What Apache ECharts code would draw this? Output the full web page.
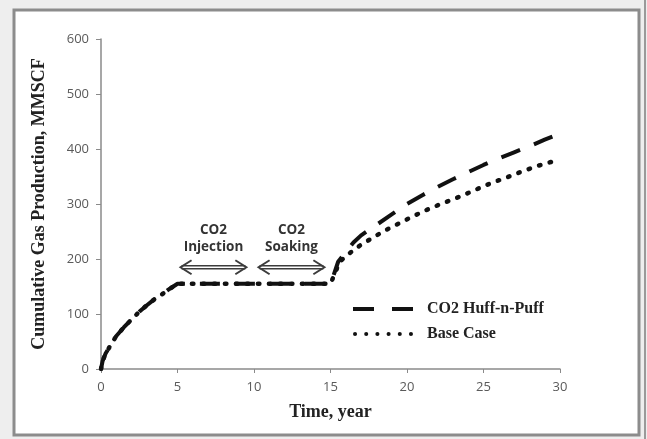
<!DOCTYPE html>
<html>
<head>
<meta charset="utf-8">
<script src="https://cdn.jsdelivr.net/npm/echarts@6/dist/echarts.min.js"></script>
<style>
html,body{margin:0;padding:0;background:#eeeeee;}
#c{width:647px;height:439px;}
</style>
</head>
<body>
<div id="c"></div>
<script>
// ---- data ----
const seriesNames = ['CO2 Huff-n-Puff', 'Base Case'];
const huffTime = [0,0.1,0.3,0.6,1,1.5,2,2.5,3,3.5,4,4.5,5,10,15,15.2,15.5,16,16.5,17,18,19,20,21,22,23,24,25,26,27,28,29,30];
const huffVal  = [0,14,28,42,60,76,90,104,116,127,136,146,155,155,155,170,195,213,230,243,262,281,300,316,331,345,358,371,383,394,405,417,428];
const baseTime = [0,0.1,0.3,0.6,1,1.5,2,2.5,3,3.5,4,4.5,5,10,15,15.2,15.6,16,16.5,17,17.6,18.5,19.5,20.5,21.5,22.5,23.5,24.5,25.5,26.5,27.5,28.5,30];
const baseVal  = [0,14,28,42,60,76,90,104,116,127,136,146,155,155,155,168,195,205,216,226,236,251,265,279,292,303,314,326,338,348,359,369,381];
const xTicks = [0,5,10,15,20,25,30];
const yTicks = [0,100,200,300,400,500,600];
// annotation arrows: [startTime, endTime, value]
const arrowStart = [5.2, 10.3];
const arrowEnd   = [9.5, 14.6];
const arrowVal   = [185, 185];
const annoText   = ['CO2\nInjection', 'CO2\nSoaking'];

const huffData = huffTime.map((t,i)=>[t, huffVal[i]]);
const baseData = baseTime.map((t,i)=>[t, baseVal[i]]);
const arrowData = arrowStart.map((s,i)=>[s, arrowEnd[i], arrowVal[i], annoText[i]]);

// legend icons (dash pair / dotted row)
const dashIcon = 'path://M0,0h21v4h-21z M39,0h21v4h-21z';
let dotPath = '';
for (let k = 0; k < 6; k++) { const cx = 2 + k * 11; dotPath += 'M' + (cx - 2) + ',2a2,2 0 1,0 4,0a2,2 0 1,0 -4,0z '; }
const dotIcon = 'path://' + dotPath;

const chart = echarts.init(document.getElementById('c'), null, {renderer:'canvas'});
const serif = '"Liberation Serif","Times New Roman",serif';
const sans = '"Open Sans","Liberation Sans",sans-serif';

chart.setOption({
  backgroundColor: '#eeeeee',
  animation: false,
  graphic: [
    {type:'rect', z:-10, shape:{x:14,y:10,width:625,height:425}, style:{fill:'#ffffff', stroke:'#8c8c8c', lineWidth:3}},
    {type:'line', z:-10, shape:{x1:645,y1:0,x2:645,y2:439}, style:{stroke:'#9a9a9a', lineWidth:2}}
  ],
  grid: {left:101, right:87, top:39, bottom:70},
  legend: {
    orient:'vertical', left:348, top:296, itemWidth:60, itemHeight:14, itemGap:9,
    data: [{name:seriesNames[0], icon:dashIcon}, {name:seriesNames[1], icon:dotIcon}],
    itemStyle:{color:'#111', borderWidth:0},
    textStyle:{fontFamily:serif, fontWeight:'bold', fontSize:16, color:'#222', padding:[0,0,0,9]}
  },
  xAxis: {
    type:'value', min:0, max:30, interval:5,
    name:'Time, year', nameLocation:'middle', nameGap:34,
    nameTextStyle:{fontFamily:serif, fontWeight:'bold', fontSize:18, color:'#222'},
    axisLine:{lineStyle:{color:'#8a8a8a', width:1.5}},
    axisTick:{show:true, length:4, lineStyle:{color:'#8a8a8a'}},
    axisLabel:{margin:12, fontFamily:sans, fontSize:13, color:'#5a5a5a', formatter:v=>xTicks.includes(v)?String(v):''},
    splitLine:{show:false}
  },
  yAxis: {
    type:'value', min:0, max:600, interval:100,
    name:'Cumulative Gas Production, MMSCF', nameLocation:'middle', nameGap:53,
    nameTextStyle:{fontFamily:serif, fontWeight:'bold', fontSize:18, color:'#222'},
    axisLine:{show:true, lineStyle:{color:'#8a8a8a', width:1.5}},
    axisTick:{show:true, length:5, lineStyle:{color:'#8a8a8a'}},
    axisLabel:{margin:12, fontFamily:sans, fontSize:13, color:'#5a5a5a', formatter:v=>yTicks.includes(v)?String(v):''},
    splitLine:{show:false}
  },
  series: [
    {
      name: seriesNames[0], type:'line', data: huffData, showSymbol:false, symbol:'none', smooth:false,
      lineStyle:{color:'#111', width:4, type:[20,15], cap:'butt'}, itemStyle:{color:'#111'}, z:3
    },
    {
      name: seriesNames[1], type:'line', data: baseData, showSymbol:false, symbol:'none', smooth:false,
      lineStyle:{color:'#111', width:4.5, type:[1.5,9.5], cap:'round'}, itemStyle:{color:'#111'}, z:4
    },
    {
      type:'custom', data: arrowData, silent:true, z:5,
      encode:{x:[0,1], y:2},
      renderItem: function(params, api){
        const p1 = api.coord([api.value(0), api.value(2)]);
        const p2 = api.coord([api.value(1), api.value(2)]);
        const col = '#3c3c3c';
        const h = 7, w = 11, o = 1.5;
        const st = {stroke:col, lineWidth:1.3, fill:null};
        const mid = (p1[0]+p2[0])/2;
        return {type:'group', children:[
          {type:'line', shape:{x1:p1[0]+1,y1:p1[1]-o,x2:p2[0]-1,y2:p2[1]-o}, style:st},
          {type:'line', shape:{x1:p1[0]+1,y1:p1[1]+o,x2:p2[0]-1,y2:p2[1]+o}, style:st},
          {type:'polyline', shape:{points:[[p1[0]+w,p1[1]-h],[p1[0],p1[1]],[p1[0]+w,p1[1]+h]]}, style:Object.assign({}, st, {lineWidth:2})},
          {type:'polyline', shape:{points:[[p2[0]-w,p2[1]-h],[p2[0],p2[1]],[p2[0]-w,p2[1]+h]]}, style:Object.assign({}, st, {lineWidth:2})},
          {type:'text', x:mid, y:p1[1]-12, style:{text:api.value(3), fontFamily:sans, fontWeight:'bold', fontSize:13.5, lineHeight:17, fill:'#333', align:'center', verticalAlign:'bottom'}}
        ]};
      }
    }
  ]
});
</script>
</body>
</html>
